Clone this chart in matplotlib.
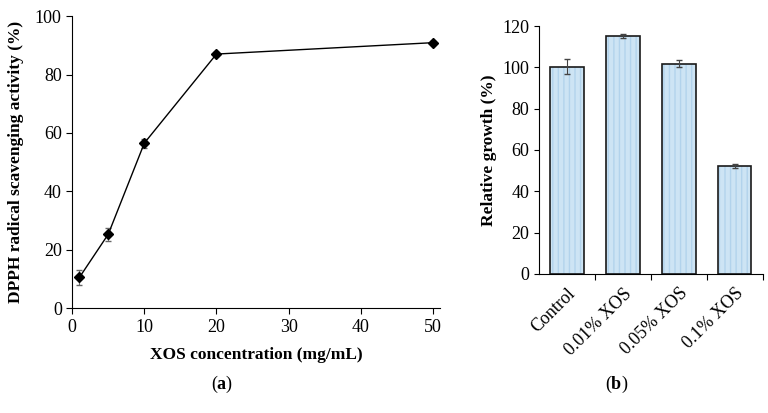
import matplotlib
matplotlib.use('Agg')
import matplotlib.pyplot as plt
import numpy as np

# (a) DPPH scavenging
conc = [1, 5, 10, 20, 50]
dpph = [10.5, 25.3, 56.5, 87.0, 90.9]
dpph_err = [2.5, 2.3, 1.5, 0.8, 0.5]

# (b) relative growth
groups = ['Control', '0.01% XOS', '0.05% XOS', '0.1% XOS']
growth = [100.2, 115.2, 101.8, 52.4]
growth_err = [3.6, 1.1, 1.8, 1.0]

plt.rcParams['font.family'] = ['Liberation Serif', 'DejaVu Serif']
plt.rcParams['mathtext.fontset'] = 'custom'
plt.rcParams['mathtext.rm'] = 'Liberation Serif'
plt.rcParams['mathtext.bf'] = 'Liberation Serif:bold'

fig = plt.figure(figsize=(7.68, 4.13), dpi=100)

# -------- panel a --------
ax1 = fig.add_axes([0.094, 0.254, 0.479, 0.707])
ax1.errorbar(conc, dpph, yerr=dpph_err, color='black', marker='D', markersize=5,
             linewidth=1, ecolor='#666666', elinewidth=0.8, capsize=2)
ax1.set_xlim(0, 51)
ax1.set_ylim(0, 100)
ax1.set_xticks(range(0, 51, 10))
ax1.set_yticks(range(0, 101, 20))
ax1.set_xlabel('XOS concentration (mg/mL)', fontsize=12.5, fontweight='bold', labelpad=8)
ax1.set_ylabel('DPPH radical scavenging activity (%)', fontsize=12.5, fontweight='bold',
               labelpad=8)
ax1.tick_params(labelsize=13, direction='out', length=4, width=0.8)
for s in ['top', 'right']:
    ax1.spines[s].set_visible(False)

# -------- panel b --------
ax2 = fig.add_axes([0.702, 0.337, 0.291, 0.600])
x = np.arange(len(groups))
ax2.bar(x, growth, width=0.6, color='#cde4f4', edgecolor='#b2d3ec',
        hatch='|||', linewidth=0)
ax2.bar(x, growth, width=0.6, fill=False, edgecolor='#1a1a1a', linewidth=1.2,
        yerr=growth_err, ecolor='#444444', error_kw=dict(elinewidth=0.8, capsize=2))
ax2.set_xlim(-0.5, 3.5)
ax2.set_ylim(0, 120)
ax2.set_yticks(range(0, 121, 20))
ax2.set_xticks(x)
ax2.set_xticklabels(groups, rotation=45, ha='right', rotation_mode='anchor')
ax2.set_xticks(np.arange(0.5, 3.6, 1), minor=True)
ax2.tick_params(axis='x', which='major', length=0, pad=8)
ax2.tick_params(axis='x', which='minor', length=4, width=0.8)
ax2.tick_params(labelsize=13, direction='out', width=0.8)
ax2.set_ylabel('Relative growth (%)', fontsize=12.5, fontweight='bold')
for s in ['top', 'right']:
    ax2.spines[s].set_visible(False)

fig.text(0.289, 0.068, r'($\mathbf{a}$)', ha='center', va='center', fontsize=13)
fig.text(0.803, 0.068, r'($\mathbf{b}$)', ha='center', va='center', fontsize=13)

fig.savefig('out.png', dpi=100)
